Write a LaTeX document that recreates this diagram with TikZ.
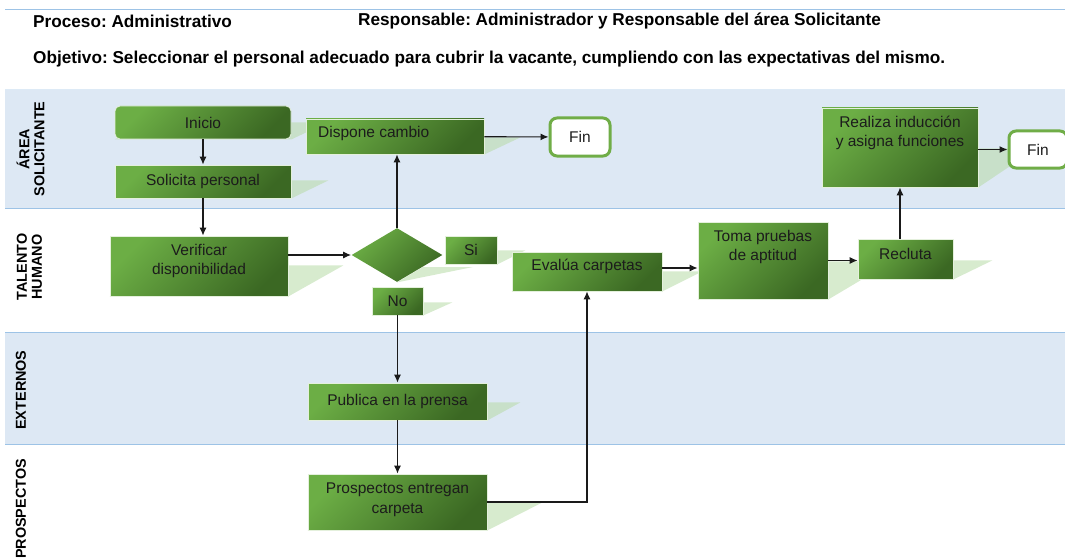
\documentclass[tikz,border=0pt]{standalone}
\usepackage{fontspec}
\setmainfont{Liberation Sans}
\usetikzlibrary{shapes.geometric,arrows.meta,calc}
\frenchspacing

\definecolor{laneFill}{HTML}{DDE8F4}
\definecolor{laneLine}{HTML}{9DC3E6}
\definecolor{gLight}{HTML}{6CAE45}
\definecolor{gMid}{HTML}{5C9A39}
\definecolor{gDark}{HTML}{3B6823}
\definecolor{boxEdge}{HTML}{E4F0DC}
\definecolor{boxText}{HTML}{1C1C1C}
\definecolor{shadowGreen}{HTML}{B7DAA6}
\definecolor{finEdge}{HTML}{70AD47}
\definecolor{wire}{HTML}{1A1A1A}

\pgfdeclarelayer{lanes}
\pgfdeclarelayer{shadows}
\pgfsetlayers{lanes,shadows,main}

\newcommand{\boxfont}{\fontsize{15.5}{19.5}\selectfont}
\newcommand{\hdrfont}{\bfseries\fontsize{17.2}{20}\selectfont}
\newcommand{\lanefont}{\bfseries\fontsize{14.4}{15}\selectfont}

\begin{document}
\begin{tikzpicture}[x=1pt,y=-1pt,
  proc/.style={draw=boxEdge, line width=0.8pt,
    top color=gLight, middle color=gMid, bottom color=gDark, shading angle=45,
    inner sep=0pt, font=\boxfont, text=boxText, align=center},
  startbox/.style={proc, rounded corners=5pt},
  decision/.style={diamond, proc, draw=none},
  endbox/.style={draw=finEdge, line width=3pt, fill=white, rounded corners=7pt,
    inner sep=0pt, font=\boxfont, text=boxText},
  label text/.style={inner sep=0pt, font=\boxfont, text=boxText, align=center},
  hdr/.style={inner sep=0pt, font=\hdrfont, text=black, anchor=west},
  lanename/.style={inner sep=0pt, font=\lanefont, text=black, rotate=90, align=center},
  flow/.style={draw=wire, line width=1.1pt, -{Latex[length=8pt,width=7pt]}},
  shadowfill/.style={fill=shadowGreen, fill opacity=0.55},
]
\useasboundingbox (0,0) rectangle (1065,559);

% ---------- header ----------
\node[hdr] (proc) at (33,21) {Proceso: Administrativo};
\node[hdr] (resp) at (358,21) {Responsable: Administrador y Responsable del área Solicitante};
\node[hdr] (obj) at (33,59) {Objetivo: Seleccionar el personal adecuado para cubrir la vacante, cumpliendo con las expectativas del mismo.};

% ---------- lanes ----------
\begin{pgfonlayer}{lanes}
  \fill[laneFill] (5,90) rectangle (1065,208);
  \fill[laneFill] (5,332) rectangle (1065,444);
  \draw[laneLine, line width=1pt] (5,10) -- (1065,10);
  \draw[laneLine!35, line width=1pt] (5,90) -- (1065,90);
  \draw[laneLine, line width=1pt] (5,208) -- (1065,208);
  \draw[laneLine, line width=1pt] (5,332) -- (1065,332);
  \draw[laneLine, line width=1pt] (5,444) -- (1065,444);
\end{pgfonlayer}

\node[lanename] (laneA) at (30.5,149) {ÁREA\\SOLICITANTE};
\node[lanename] (laneB) at (29.5,267) {TALENTO\\HUMANO};
\node[lanename] (laneC) at (21,390) {EXTERNOS};
\node[lanename] (laneD) at (21,509) {PROSPECTOS};

% ---------- process boxes ----------
\node[startbox, minimum width=176pt, minimum height=33pt] (ini) at (203,122.5) {Inicio};
\node[proc, minimum width=176pt, minimum height=33pt] (sol) at (203,181.5) {Solicita personal};
\node[proc, minimum width=178pt, minimum height=35pt] (disp) at (395,136.5) {};
\node[label text, anchor=west] (dispT) at (318,133) {Dispone cambio};
\node[endbox, minimum width=60pt, minimum height=38pt] (fin1) at (580,137) {Fin};

\node[proc, minimum width=156pt, minimum height=79pt] (rea) at (900,147.5) {};
\node[label text] (reaT) at (900,133) {Realiza inducción\\y asigna funciones};
\node[endbox, minimum width=58pt, minimum height=37pt] (fin2) at (1038,149.5) {Fin};

\node[proc, minimum width=178pt, minimum height=60pt] (verif) at (199,266) {};
\node[label text] (verifT) at (199,261) {Verificar\\disponibilidad};
\node[decision, minimum width=91pt, minimum height=54pt] (dia) at (397,255) {};
\node[proc, minimum width=52pt, minimum height=28pt] (si) at (471,250) {Si};
\node[proc, minimum width=51pt, minimum height=28pt] (no) at (397.5,301) {No};
\node[proc, minimum width=150pt, minimum height=39pt] (eval) at (587,271.5) {};
\node[label text] (evalT) at (587,266) {Evalúa carpetas};
\node[proc, minimum width=130pt, minimum height=77pt] (toma) at (763,260.5) {};
\node[label text] (tomaT) at (763,247) {Toma pruebas\\de aptitud};
\node[proc, minimum width=95pt, minimum height=40pt] (rec) at (905.5,259) {};
\node[label text] (recT) at (905.5,254) {Recluta};

\node[proc, minimum width=179pt, minimum height=37pt] (pub) at (397.5,401.5) {Publica en la prensa};
\node[proc, minimum width=179pt, minimum height=56pt] (prosp) at (397.5,502) {};
\node[label text] (prospT) at (397.5,500) {Prospectos entregan\\carpeta};

% ---------- cast shadows ----------
\begin{pgfonlayer}{shadows}
  \foreach \b/\dx/\h in {ini/36/17, sol/37/18, disp/36/17, rea/58/39, verif/55/31,
                         si/28/14, no/29/13, eval/40/20, toma/64/38, rec/39/19,
                         pub/33/18, prosp/57/29} {
    \fill[shadowfill] (\b.south west) -- (\b.south east) -- ++(\dx,-\h)
      -- ($(\b.south west)+(\dx,-\h)$) -- cycle;
  }
  \fill[shadowfill] (dia.south) -- (473,267) -- (423,267) -- cycle;
\end{pgfonlayer}

% ---------- connectors ----------
\draw[flow] (ini) -- (sol);
\draw[flow] (sol.south) -- (sol.south |- verif.north);
\draw[flow] (verif.east |- dia.west) -- (dia.west);
\draw[flow] (dia.north) -- (dia.north |- disp.south);
\draw[flow] (disp) -- (fin1);
\draw[flow] (no.south) -- (no.south |- pub.north);
\draw[flow] (pub) -- (prosp);
\draw[flow] (prosp.east) -| (eval.south);
\draw[flow] ([yshift=3.5pt]eval.east) -- ([yshift=3.5pt]eval.east -| toma.west);
\draw[flow] (toma.east) -- (toma.east -| rec.west);
\draw[flow] (rea.south |- rec.north) -- (rea.south);
\draw[flow] (rea.east |- fin2.west) -- (fin2.west);
\end{tikzpicture}
\end{document}
